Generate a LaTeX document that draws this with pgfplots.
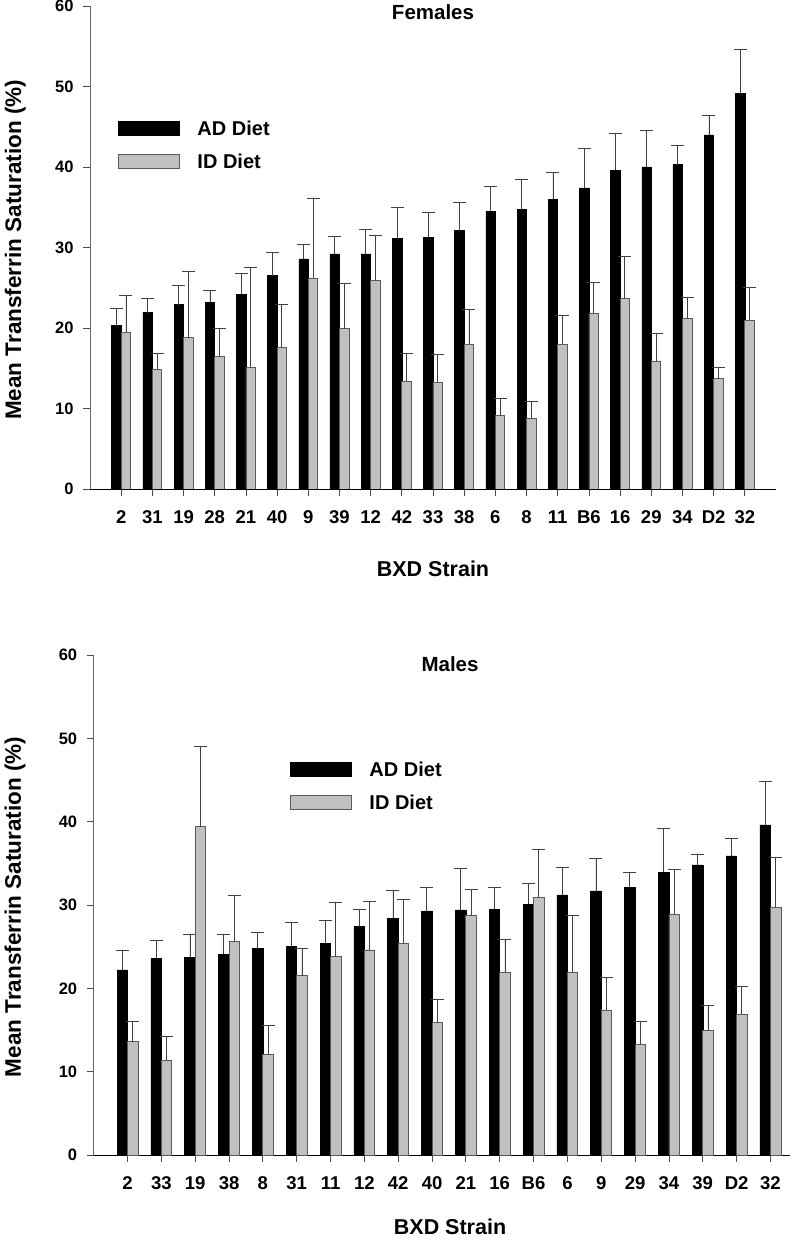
\documentclass[border=0pt]{standalone}
\usepackage{fontspec}
\setmainfont{Liberation Sans}
\usepackage{pgfplots}
\pgfplotsset{compat=1.18}
\usepackage{pgfplotstable}
\definecolor{idgray}{HTML}{C0C0C0}
\definecolor{idedge}{HTML}{5A5A5A}
\definecolor{errc}{HTML}{404040}

% Females: index, AD mean, AD SE, ID mean, ID SE
\pgfplotstableread{
x ad aderr id iderr
0 20.3 2.1 19.5 4.5
1 21.9 1.8 14.9 1.9
2 22.9 2.4 18.8 8.2
3 23.2 1.5 16.5 3.4
4 24.2 2.6 15.1 12.4
5 26.5 2.9 17.6 5.3
6 28.6 1.8 26.2 9.9
7 29.2 2.2 19.9 5.7
8 29.2 3.0 25.9 5.6
9 31.1 3.9 13.4 3.4
10 31.3 3.1 13.3 3.4
11 32.1 3.5 18.0 4.3
12 34.5 3.1 9.1 2.2
13 34.7 3.7 8.8 2.1
14 36.0 3.3 18.0 3.6
15 37.4 4.9 21.8 3.9
16 39.6 4.6 23.7 5.2
17 40.0 4.6 15.9 3.4
18 40.3 2.4 21.2 2.6
19 44.0 2.4 13.7 1.4
20 49.1 5.5 21.0 4.1
}\females

% Males
\pgfplotstableread{
x ad aderr id iderr
0 22.2 2.4 13.6 2.4
1 23.6 2.1 11.4 2.8
2 23.7 2.8 39.4 9.6
3 24.1 2.4 25.6 5.5
4 24.8 1.9 12.1 3.4
5 25.0 2.9 21.5 3.3
6 25.4 2.7 23.8 6.5
7 27.4 2.1 24.6 5.8
8 28.4 3.3 25.4 5.3
9 29.3 2.8 15.9 2.8
10 29.4 5.0 28.7 3.2
11 29.5 2.6 21.9 4.0
12 30.1 2.5 30.9 5.8
13 31.2 3.3 21.9 6.9
14 31.7 3.9 17.4 3.9
15 32.1 1.8 13.3 2.7
16 33.9 5.3 28.9 5.4
17 34.8 1.3 14.9 3.1
18 35.9 2.1 16.9 3.3
19 39.6 5.2 29.7 6.0
}\males

\pgfplotsset{
  mybars/.style={
    scale only axis,
    ymin=0, ymax=60,
    ytick={0,10,...,60},
    axis x line=bottom, axis y line=left,
    axis line style={-},
    x axis line style={black, line width=0.9pt},
    y axis line style={black!60, line width=0.9pt},
    tick align=outside,
    major tick length=7pt,
    tick style={black!70, line width=0.8pt},
    xtick={0,...,20},
    /pgf/number format/assume math mode=true,
    yticklabel style={font=\bfseries\fontsize{16.5}{16.5}\selectfont, xshift=-6pt},
    xticklabel style={font=\bfseries\fontsize{18.5}{18.5}\selectfont, yshift=-11.5pt},
    xlabel={BXD Strain},
    ylabel={Mean Transferrin Saturation (\%)},
    xlabel style={font=\bfseries\fontsize{21.5}{21.5}\selectfont, anchor=center, inner sep=0pt},
    ylabel style={font=\bfseries\fontsize{22.5}{22.5}\selectfont, anchor=center, rotate=0},
    every axis title/.style={font=\bfseries\fontsize{20.5}{20.5}\selectfont, anchor=center, inner sep=0pt},
    legend cell align=left,
    legend style={draw=none, fill=none, inner sep=0pt, anchor=north west,
      font=\bfseries\fontsize{20}{20}\selectfont,
      nodes={inner sep=0pt, text height=14pt, text depth=0pt},
      row sep=19pt, column sep=17.5pt},
    legend image code/.code={\draw[##1] (0pt,-7pt) rectangle (61pt,7pt);},
    adbar/.style={draw=black, fill=black, line width=0.5pt},
    idbar/.style={draw=idedge, fill=idgray, line width=0.8pt},
    errs/.style={error bars/.cd, y dir=plus, y explicit,
      error bar style={errc, line width=0.8pt},
      error mark options={errc, line width=0.8pt, mark size=6.5pt, rotate=90}},
  }
}

\begin{document}
\begin{tikzpicture}[x=1pt,y=1pt]
\useasboundingbox (0,0) rectangle (805,1240);
% ---------------- Females ----------------
\begin{axis}[mybars,
  at={(90pt,751pt)}, anchor=south west,
  width=686pt, height=483pt,
  xmin=-1, xmax=21,
  xticklabels={2,31,19,28,21,40,9,39,12,42,33,38,6,8,11,B6,16,29,34,D2,32},
  title={Females},
  title style={at={(axis description cs:0.5,0.988)}},
  xlabel style={at={(axis description cs:0.5,-0.1656)}},
  ylabel style={at={(axis description cs:-0.109,0.495)}},
  legend style={at={(axis description cs:0.0408,0.7625)}},
]
\addplot[ybar, bar width=9.5pt, bar shift=0pt, adbar, errs]
  table[x expr=\thisrow{x}-0.152, y=ad, y error=aderr]{\females};
\addplot[ybar, bar width=9.5pt, bar shift=0pt, idbar, errs]
  table[x expr=\thisrow{x}+0.152, y=id, y error=iderr]{\females};
\legend{AD Diet, ID Diet}
\end{axis}
% ---------------- Males ----------------
\begin{axis}[mybars,
  at={(93.7pt,85pt)}, anchor=south west,
  width=696pt, height=500pt,
  xmin=-1, xmax=19.57,
  xtick={0,...,19},
  xticklabels={2,33,19,38,8,31,11,12,42,40,21,16,B6,6,9,29,34,39,D2,32},
  title={Males},
  title style={at={(axis description cs:0.512,0.982)}},
  xlabel style={at={(axis description cs:0.512,-0.144)}},
  ylabel style={at={(axis description cs:-0.113,0.496)}},
  legend style={at={(axis description cs:0.282,0.7866)}},
]
\addplot[ybar, bar width=10.5pt, bar shift=0pt, adbar, errs]
  table[x expr=\thisrow{x}-0.155, y=ad, y error=aderr]{\males};
\addplot[ybar, bar width=10.5pt, bar shift=0pt, idbar, errs]
  table[x expr=\thisrow{x}+0.155, y=id, y error=iderr]{\males};
\legend{AD Diet, ID Diet}
\end{axis}
\end{tikzpicture}
\end{document}
